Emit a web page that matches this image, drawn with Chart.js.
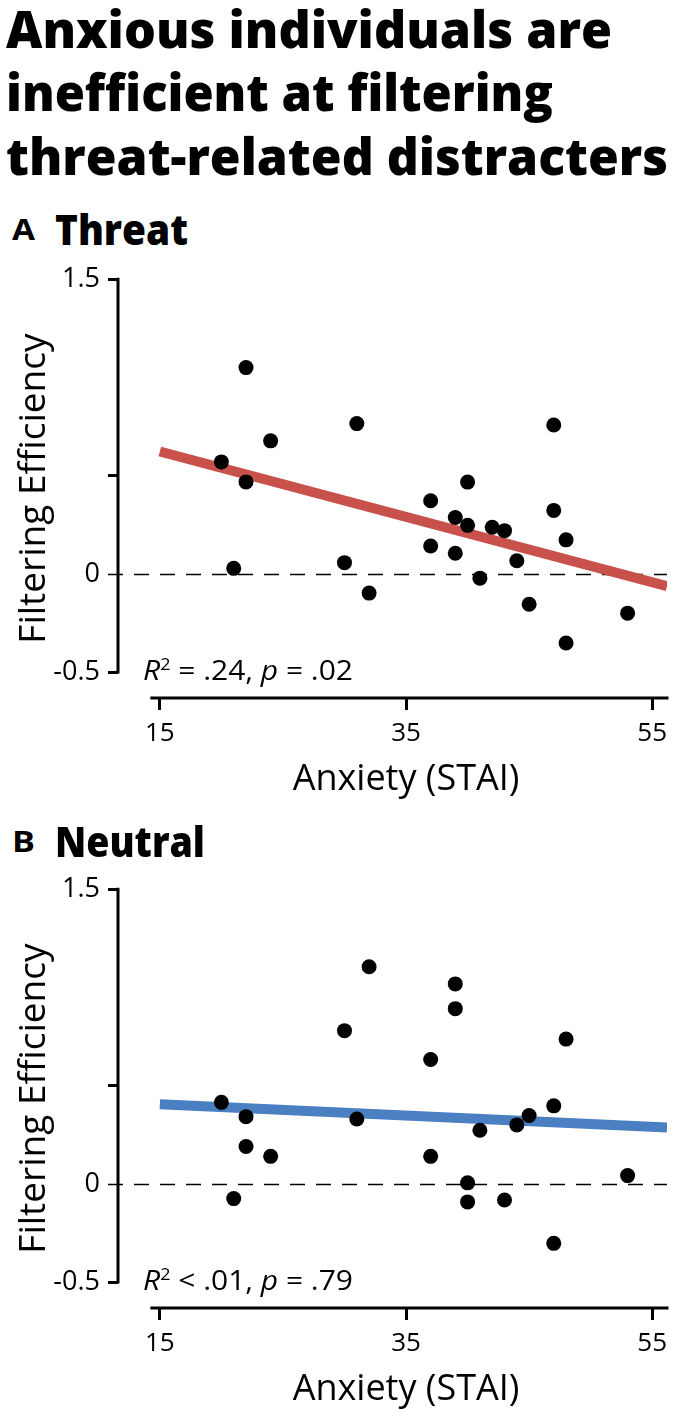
<!DOCTYPE html>
<html>
<head>
<meta charset="utf-8">
<script src="https://cdn.jsdelivr.net/npm/chart.js@4.4.1/dist/chart.umd.min.js"></script>
<style>
  html, body { margin: 0; padding: 0; background: #fff; }
  body { width: 677px; height: 1417px; position: relative; overflow: hidden; font-family: "Open Sans", sans-serif; color: #000; }
  .fit { position: absolute; white-space: nowrap; transform-origin: 0 0; line-height: 1; }
  .title { font-weight: 800; font-size: 52px; left: 6px; }
  .letter { font-weight: 700; font-size: 29px; left: 12px; }
  .panel { font-weight: 800; font-size: 42px; left: 55px; }
  .stat { font-size: 28px; left: 143px; }
  .stat i { font-style: italic; }
  .stat sup { font-size: 0.6em; vertical-align: 0; position: relative; top: -0.62em; }
  .chart { position: absolute; left: 0; width: 677px; height: 560px; }
</style>
</head>
<body>
<div class="fit title" data-w="606" style="top:2px">Anxious individuals are</div>
<div class="fit title" data-w="547" style="top:65px">inefficient at filtering</div>
<div class="fit title" data-w="662" style="top:129px">threat-related distracters</div>

<div class="fit letter" data-w="23" style="top:214px">A</div>
<div class="fit panel" data-w="133" style="top:208px">Threat</div>
<div class="chart" style="top:255px"><canvas id="threatChart"></canvas></div>
<div class="fit stat" data-w="210" style="top:655px"><i>R</i><sup>2</sup> = .24, <i>p</i> = .02</div>

<div class="fit letter" data-w="23" style="top:826px">B</div>
<div class="fit panel" data-w="150" style="top:820px">Neutral</div>
<div class="chart" style="top:865px"><canvas id="neutralChart"></canvas></div>
<div class="fit stat" data-w="210" style="top:1265px"><i>R</i><sup>2</sup> &lt; .01, <i>p</i> = .79</div>

<script>
// anxiety scores and filtering efficiency
const threatX = [22, 31, 47, 24, 20, 22, 40, 37, 47, 39, 40, 42, 43, 48, 37, 39, 44, 30, 21, 41, 32, 45, 53, 48];
const threatY = [1.05, 0.765, 0.758, 0.677, 0.57, 0.468, 0.467, 0.372, 0.323, 0.287, 0.247, 0.237, 0.22, 0.173, 0.142, 0.105, 0.067, 0.057, 0.028, -0.022, -0.098, -0.155, -0.2, -0.352];
const neutralX = [32, 39, 39, 30, 48, 37, 20, 47, 22, 45, 31, 44, 41, 22, 24, 37, 53, 40, 21, 40, 43, 47];
const neutralY = [1.105, 1.018, 0.892, 0.78, 0.737, 0.633, 0.415, 0.397, 0.342, 0.348, 0.33, 0.30, 0.273, 0.19, 0.14, 0.14, 0.042, 0.005, -0.075, -0.092, -0.082, -0.303];

// fitted regression lines (end points)
const fitX = [15, 56.2];
const threatFitY = [0.623, -0.063];
const neutralFitY = [0.405, 0.287];

const xTicks = [15, 35, 55];
const yTicks = [-0.5, 0, 0.5, 1.5];
const yTickLabels = ['-0.5', '0', '', '1.5'];

const FONT = 'Open Sans';

// detached axes, dashed zero line, x axis title
const frame = {
  id: 'frame',
  beforeDatasetsDraw(chart) {
    const {ctx, chartArea: a, scales: {x, y}} = chart;
    ctx.save();
    ctx.strokeStyle = '#000';
    ctx.lineWidth = 1.5;
    ctx.setLineDash([15, 11]);
    const y0 = Math.round(y.getPixelForValue(0)) + 0.5;
    ctx.beginPath();
    ctx.moveTo(a.left - 10, y0);
    ctx.lineTo(a.right, y0);
    ctx.stroke();

    ctx.setLineDash([]);
    ctx.lineWidth = 3;
    ctx.lineCap = 'square';
    ctx.beginPath();
    ctx.moveTo(a.left, y.getPixelForValue(1.5));
    ctx.lineTo(a.left, y.getPixelForValue(-0.5));
    ctx.moveTo(x.getPixelForValue(14.35), a.bottom);
    ctx.lineTo(a.right, a.bottom);
    ctx.stroke();

    ctx.fillStyle = '#000';
    ctx.font = '36px "' + FONT + '"';
    ctx.textAlign = 'center';
    ctx.textBaseline = 'alphabetic';
    ctx.fillText('Anxiety (STAI)', x.getPixelForValue(35), a.bottom + 92);
    ctx.restore();
  }
};

function makeChart(id, xs, ys, fitY, color) {
  return new Chart(document.getElementById(id), {
    type: 'scatter',
    data: {
      datasets: [
        {
          data: xs.map((v, i) => ({x: v, y: ys[i]})),
          backgroundColor: '#000',
          borderWidth: 0,
          pointRadius: 7.5,
          order: 0
        },
        {
          type: 'line',
          data: fitX.map((v, i) => ({x: v, y: fitY[i]})),
          borderColor: color,
          borderWidth: 10,
          pointRadius: 0,
          borderCapStyle: 'butt',
          order: 1
        }
      ]
    },
    options: {
      responsive: true,
      maintainAspectRatio: false,
      animation: false,
      layout: { padding: { top: 19, right: 10, left: 0, bottom: 0 } },
      plugins: { legend: { display: false }, tooltip: { enabled: false } },
      scales: {
        x: {
          type: 'linear',
          min: 11.6,
          max: 56.2,
          afterBuildTicks: s => { s.ticks = xTicks.map(v => ({value: v})); },
          afterFit: s => { s.height = 117; },
          border: { display: false },
          grid: { drawOnChartArea: false, tickLength: 12, tickWidth: 3, tickColor: '#000' },
          ticks: { color: '#000', font: { family: FONT, size: 26 }, padding: 8, maxRotation: 0, autoSkip: false }
        },
        y: {
          min: -0.632,
          max: 1.5,
          afterBuildTicks: s => { s.ticks = yTicks.map(v => ({value: v})); },
          afterFit: s => { s.width = 118; },
          border: { display: false },
          grid: {
            drawOnChartArea: false, tickLength: 10, tickWidth: 3,
            tickColor: c => (c.tick && c.tick.value === 0) ? 'rgba(0,0,0,0)' : '#000'
          },
          ticks: {
            color: '#000', font: { family: FONT, size: 27 }, padding: 8, autoSkip: false,
            callback: v => yTickLabels[yTicks.indexOf(v)]
          },
          title: {
            display: true, text: 'Filtering Efficiency', color: '#000',
            font: { family: FONT, size: 37 }, padding: { top: 12, bottom: 0 }
          }
        }
      }
    },
    plugins: [frame]
  });
}

makeChart('threatChart', threatX, threatY, threatFitY, '#c9514c');
makeChart('neutralChart', neutralX, neutralY, neutralFitY, '#4a7fc2');

document.querySelectorAll('.fit').forEach(el => {
  const w = el.getBoundingClientRect().width;
  el.style.transform = 'scaleX(' + (el.dataset.w / w) + ')';
});
</script>
</body>
</html>
